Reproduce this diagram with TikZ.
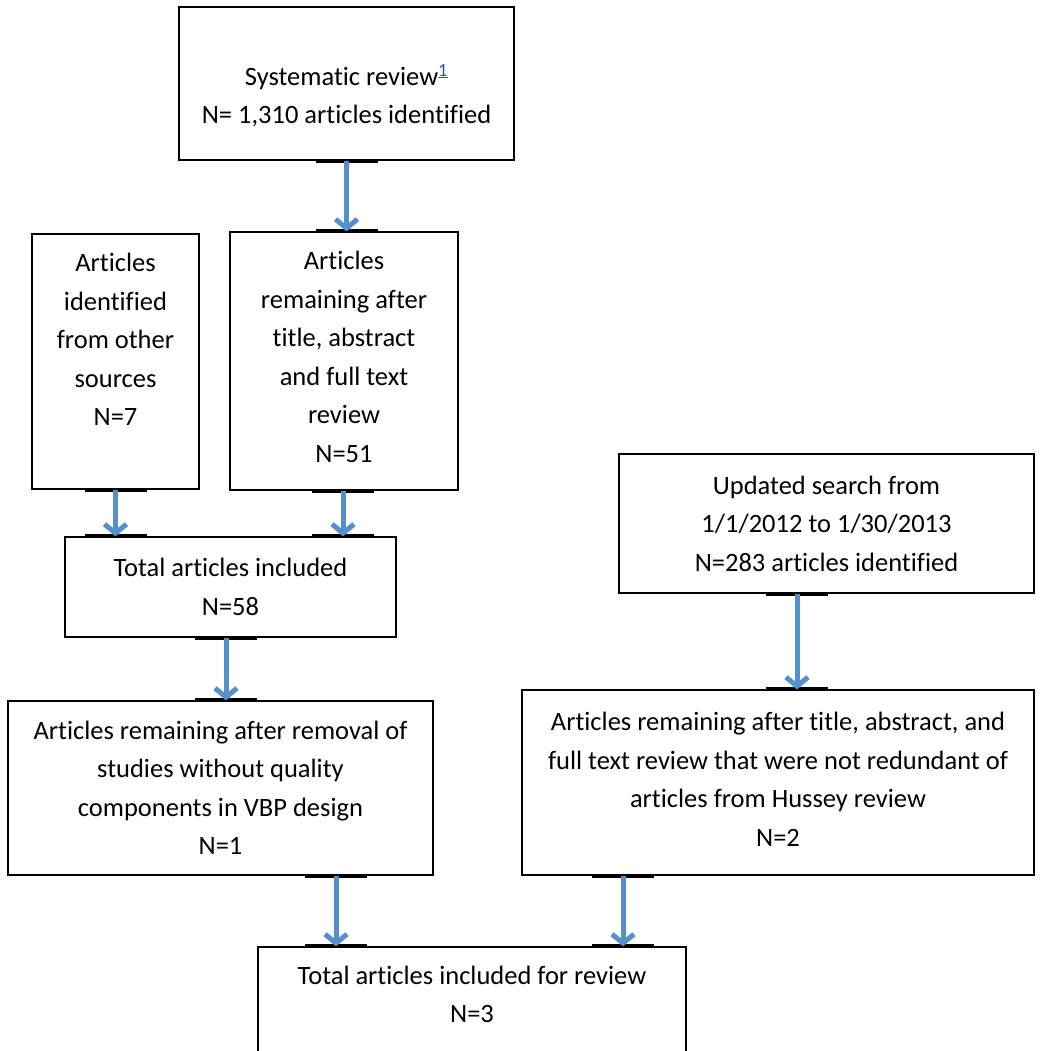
\documentclass[tikz,border=0pt]{standalone}
\usepackage{fontspec}
\setmainfont{Carlito}[RawFeature={-liga;-clig;-calt;-dlig}]
\usetikzlibrary{arrows.meta}
\definecolor{arrblue}{RGB}{84,144,204}
\definecolor{linkblue}{RGB}{60,80,160}
\tikzset{box/.style={draw, line width=1.2pt, align=center, inner sep=0pt, font=\fontsize{26.5}{38.5}\selectfont}}
\tikzset{arr/.style={draw=arrblue, line width=5pt, -{Straight Barb[length=9pt,width=22pt]}}}
\tikzset{joint/.style={fill=black, inner sep=0pt, minimum width=62pt, minimum height=4pt}}
% struts to move the text up (\padbot) or down (\padtop) inside a box
\newcommand{\padbot}[1]{\rule[-#1]{0pt}{0pt}}
\newcommand{\padtop}[1]{\rule{0pt}{#1}}
\begin{document}
\begin{tikzpicture}[x=1pt, y=-1pt]
	\clip (0,0) rectangle (1040,1051);
	\fill[white] (0,0) rectangle (1040,1051);

	\node[box, minimum width=335, minimum height=153] (sys) at (346.5,83.5)
		{\padtop{45pt}Systematic review\textsuperscript{\color{linkblue}\underline{1}}\\N= 1,310 articles identified};
	\node[box, minimum width=167, minimum height=255] (oth) at (115.5,361.5)
		{Articles\\identified\\from other\\sources\\N=7\padbot{44pt}};
	\node[box, minimum width=228, minimum height=258] (rem) at (344,361)
		{Articles\\remaining after\\title, abstract\\and full text\\review\\N=51\padbot{8pt}};
	\node[box, minimum width=331, minimum height=100] (tot) at (230.5,587)
		{Total articles included\\N=58};
	\node[box, minimum width=415, minimum height=139] (upd) at (826.5,523.5)
		{Updated search from\\1/1/2012 to 1/30/2013\\N=283 articles identified};
	\node[box, minimum width=425, minimum height=174] (vbp) at (220.5,788)
		{Articles remaining after removal of\\studies without quality\\components in VBP design\\N=1};
	\node[box, minimum width=512, minimum height=185] (hus) at (778,782.5)
		{Articles remaining after title, abstract, and\\full text review that were not redundant of\\articles from Hussey review\\N=2\padbot{6pt}};
	\node[box, minimum width=428, minimum height=128] (fin) at (472,1011)
		{Total articles included for review\\N=3\padbot{33pt}};

	% arrows with black tabs where they meet the boxes
	\foreach \a/\b/\dx in {sys/rem/0, oth/tot/0, rem/tot/-1, tot/vbp/-4.5, upd/hus/-29.5, vbp/fin/115.5, hus/fin/-155}{
		\coordinate (s) at ([xshift=\dx pt]\a.south);
		\coordinate (e) at (s |- \b.north);
		\node[joint] at (s) {};
		\node[joint] at (e) {};
		\draw[arr] (s) -- (e);
	}
\end{tikzpicture}
\end{document}
